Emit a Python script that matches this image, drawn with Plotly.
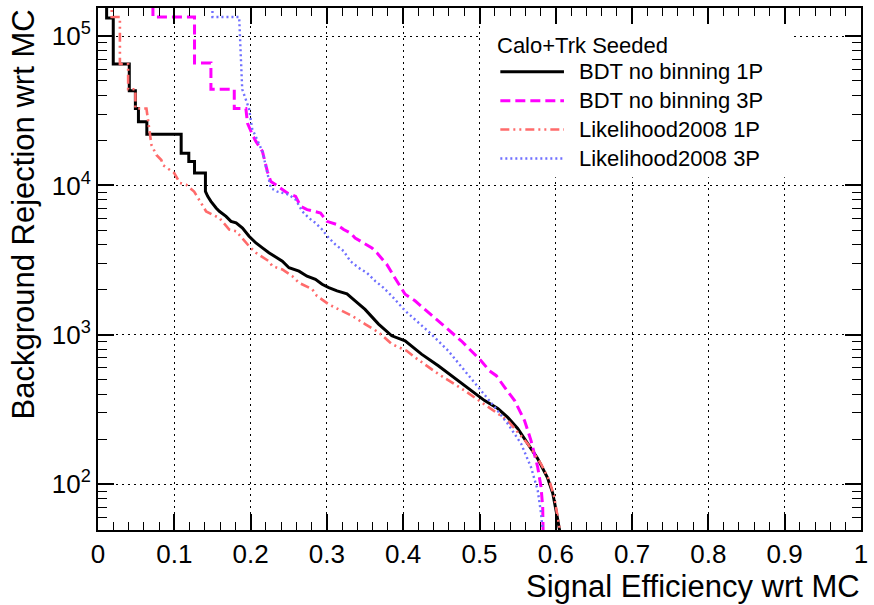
import numpy as np
import plotly.graph_objects as go

# ---- ROC curves: signal efficiency vs background rejection ----
series_names = ["BDT no binning 1P", "BDT no binning 3P",
                "Likelihood2008 1P", "Likelihood2008 3P"]
legend_header = "Calo+Trk Seeded"

bdt1p_eff = [0.0113, 0.0113, 0.020, 0.020, 0.041, 0.041, 0.049, 0.049, 0.053, 0.053,
             0.064, 0.064, 0.109, 0.109, 0.119, 0.119, 0.1265, 0.1265, 0.1408, 0.1408,
             0.1438, 0.148, 0.1548, 0.159, 0.1678, 0.1743, 0.181, 0.1894, 0.198,
             0.207, 0.2155, 0.224, 0.235, 0.2416, 0.2503, 0.2634, 0.274, 0.285,
             0.2937, 0.3025, 0.3133, 0.3263, 0.337, 0.350, 0.3677, 0.385, 0.4025,
             0.424, 0.446, 0.472, 0.4937, 0.5067, 0.524, 0.537, 0.550, 0.563, 0.576,
             0.589, 0.596, 0.601, 0.605, 0.606]
bdt1p_rej = [2.0e5, 1.32e5, 1.32e5, 6.5e4, 6.5e4, 4.3e4, 4.3e4, 3.27e4, 3.27e4, 2.67e4,
             2.67e4, 2.2e4, 2.2e4, 1.64e4, 1.64e4, 1.445e4, 1.445e4, 1.21e4, 1.21e4, 9.12e3,
             8.45e3, 7.82e3, 7.06e3, 6.71e3, 6.21e3, 5.75e3, 5.61e3, 5.19e3, 4.57e3,
             4.12e3, 3.82e3, 3.54e3, 3.27e3, 3.11e3, 2.81e3, 2.67e3, 2.47e3, 2.35e3,
             2.18e3, 2.07e3, 1.97e3, 1.88e3, 1.69e3, 1.48e3, 1.18e3, 985, 912,
             743, 621, 493, 403, 363, 321, 280, 236, 188, 149,
             111, 87, 64, 49, 30]

bdt3p_eff = [0.072, 0.072, 0.1265, 0.1265, 0.148, 0.148, 0.1786, 0.1786, 0.1938, 0.196,
             0.2025, 0.207, 0.2155, 0.222, 0.2265, 0.233, 0.248, 0.259, 0.2656, 0.274,
             0.2917, 0.300, 0.3133, 0.322, 0.3308, 0.337, 0.348, 0.359, 0.3655, 0.3785,
             0.389, 0.4025, 0.4155, 0.4285, 0.446, 0.463, 0.476, 0.489, 0.502, 0.513,
             0.522, 0.533, 0.546, 0.559, 0.5675, 0.5763, 0.5806, 0.5828, 0.5837, 0.584]
bdt3p_rej = [2.0e5, 1.34e5, 1.34e5, 6.6e4, 6.6e4, 4.4e4, 4.4e4, 3.27e4, 3.27e4, 2.6e4,
             2.18e4, 1.97e4, 1.69e4, 1.24e4, 1.06e4, 1.01e4, 8.9e3, 8.45e3, 7.24e3, 6.89e3,
             6.54e3, 5.75e3, 5.47e3, 5.07e3, 4.81e3, 4.45e3, 4.12e3, 3.82e3, 3.54e3, 2.96e3,
             2.41e3, 1.87e3, 1.69e3, 1.48e3, 1.24e3, 1.04e3, 912, 782, 671, 575,
             533, 445, 363, 267, 196, 130, 96, 71, 49, 30]

lh1p_eff = [0.018, 0.018, 0.0287, 0.0287, 0.0395, 0.0395, 0.049, 0.049, 0.0635, 0.0655,
            0.068, 0.070, 0.0765, 0.083, 0.085, 0.100, 0.107, 0.1156, 0.126, 0.131,
            0.1417, 0.150, 0.159, 0.172, 0.181, 0.198, 0.207, 0.224, 0.2286, 0.2416,
            0.2546, 0.2634, 0.2807, 0.287, 0.3025, 0.3155, 0.333, 0.350, 0.3677, 0.385,
            0.4046, 0.4155, 0.446, 0.4807, 0.511, 0.537, 0.563, 0.5806, 0.5915, 0.598,
            0.6046, 0.6056]
lh1p_rej = [2.0e5, 1.34e5, 1.34e5, 6.5e4, 6.5e4, 4.4e4, 4.4e4, 3.27e4, 3.27e4, 2.7e4,
            2.18e4, 1.87e4, 1.60e4, 1.48e4, 1.37e4, 1.21e4, 1.04e4, 1.01e4, 9.1e3, 8.2e3,
            6.7e3, 6.38e3, 6.05e3, 5.07e3, 4.94e3, 3.92e3, 3.54e3, 3.11e3, 2.88e3, 2.74e3,
            2.47e3, 2.23e3, 2.02e3, 1.82e3, 1.60e3, 1.48e3, 1.34e3, 1.18e3, 1.04e3, 867,
            782, 706, 547, 423, 328, 267, 187, 137, 106, 82,
            52, 30]

lh3p_eff = [0.150, 0.150, 0.185, 0.1877, 0.189, 0.198, 0.202, 0.2155, 0.222, 0.2265,
            0.235, 0.2503, 0.259, 0.2677, 0.2764, 0.285, 0.2937, 0.3025, 0.311, 0.322,
            0.3308, 0.3416, 0.3524, 0.3634, 0.374, 0.385, 0.4025, 0.42, 0.437, 0.459,
            0.4807, 0.5023, 0.52, 0.537, 0.5545, 0.5675, 0.5763, 0.5806, 0.5828, 0.583]
lh3p_rej = [2.0e5, 1.34e5, 1.34e5, 6.7e4, 4.4e4, 3.26e4, 2.4e4, 1.69e4, 1.24e4, 9.6e3,
            9.1e3, 8.67e3, 8.03e3, 6.71e3, 6.05e3, 5.61e3, 5.07e3, 4.45e3, 4.03e3, 3.63e3,
            3.11e3, 2.81e3, 2.6e3, 2.29e3, 2.07e3, 1.82e3, 1.45e3, 1.21e3, 1.01e3, 782,
            575, 423, 328, 254, 187, 130, 91, 64, 49, 30]

x_range = [0.0, 1.0]
y_range = [49.4, 1.54e5]
y_major = [1e2, 1e3, 1e4, 1e5]
y_major_text = ["10<sup>2</sup>", "10<sup>3</sup>", "10<sup>4</sup>", "10<sup>5</sup>"]

styles = [
    dict(color="#000000", width=3, dash="solid"),
    dict(color="#ff00ff", width=3, dash="10px,5px"),
    dict(color="#ff6b6b", width=2.6, dash="9px,4px,2px,4px,2px,4px"),
    dict(color="#6f6fff", width=2.4, dash="2px,3px"),
]
curves = [(bdt1p_eff, bdt1p_rej), (bdt3p_eff, bdt3p_rej),
          (lh1p_eff, lh1p_rej), (lh3p_eff, lh3p_rej)]

FONT = "Liberation Sans, Arial, Helvetica, sans-serif"

fig = go.Figure()
for name, (ex, ry), st in zip(series_names, curves, styles):
    fig.add_trace(go.Scatter(x=ex, y=ry, mode="lines", name=name,
                             line=dict(color=st["color"], width=st["width"],
                                       dash=st["dash"]),
                             showlegend=False, hoverinfo="skip"))

# minor ticks on the log axis: 2..9 x 10^n
y_minor = [k * 10.0 ** n for n in range(1, 6) for k in range(2, 10)
           if y_range[0] <= k * 10.0 ** n <= y_range[1]]

axis_common = dict(showline=True, linecolor="black", linewidth=2, mirror="allticks",
                   ticks="inside", tickcolor="black", tickwidth=1.5,
                   showgrid=True, gridcolor="black", gridwidth=1, griddash="2px,4px",
                   zeroline=False, tickfont=dict(family=FONT, size=26, color="black"))

fig.update_xaxes(range=x_range, dtick=0.1, tick0=0, ticklen=16,
                 minor=dict(dtick=0.02, ticks="inside", ticklen=8, tickcolor="black",
                            tickwidth=1.2, showgrid=False),
                 ticklabelstandoff=0, **axis_common)
fig.update_yaxes(type="log", range=[np.log10(y_range[0]), np.log10(y_range[1])],
                 tickmode="array", tickvals=y_major, ticktext=y_major_text, ticklen=16,
                 minor=dict(tickmode="array", tickvals=y_minor, ticks="inside", ticklen=9,
                            tickcolor="black", tickwidth=1.2, showgrid=False),
                 **axis_common)

# legend block: white box, header, line samples and labels
leg_x0, leg_x1, leg_y0, leg_y1 = 0.5026, 0.9089, 0.6756, 0.966
fig.add_shape(type="rect", xref="paper", yref="paper", x0=leg_x0, x1=leg_x1,
              y0=leg_y0, y1=leg_y1, fillcolor="white", line=dict(width=0), layer="above")
fig.add_annotation(xref="paper", yref="paper", x=0.5208, y=0.9275, text=legend_header,
                   showarrow=False, xanchor="left", yanchor="middle",
                   font=dict(family=FONT, size=22, color="black"))
row_y = [0.8779, 0.8225, 0.7672, 0.7118]
for name, st, yy in zip(series_names, styles, row_y):
    fig.add_shape(type="line", xref="paper", yref="paper", x0=0.5273, x1=0.6107,
                  y0=yy, y1=yy, layer="above",
                  line=dict(color=st["color"], width=st["width"], dash=st["dash"]))
    fig.add_annotation(xref="paper", yref="paper", x=0.6276, y=yy, text=name,
                       showarrow=False, xanchor="left", yanchor="middle",
                       font=dict(family=FONT, size=22, color="black"))

# axis titles, aligned to the ends of the axes
fig.add_annotation(xref="paper", yref="paper", x=1.0, y=-0.109,
                   text="Signal Efficiency wrt MC", showarrow=False,
                   xanchor="right", yanchor="middle", borderpad=0,
                   font=dict(family=FONT, size=31, color="black"))
fig.add_annotation(xref="paper", yref="paper", x=-0.0977, y=1.0019,
                   text="Background Rejection wrt MC", showarrow=False, textangle=-90,
                   xanchor="center", yanchor="top",
                   font=dict(family=FONT, size=31, color="black"))

fig.update_layout(width=874, height=605, margin=dict(l=98, r=8, t=6, b=75),
                  paper_bgcolor="white", plot_bgcolor="white",
                  font=dict(family=FONT, color="black"))

fig.write_html("out.html")
